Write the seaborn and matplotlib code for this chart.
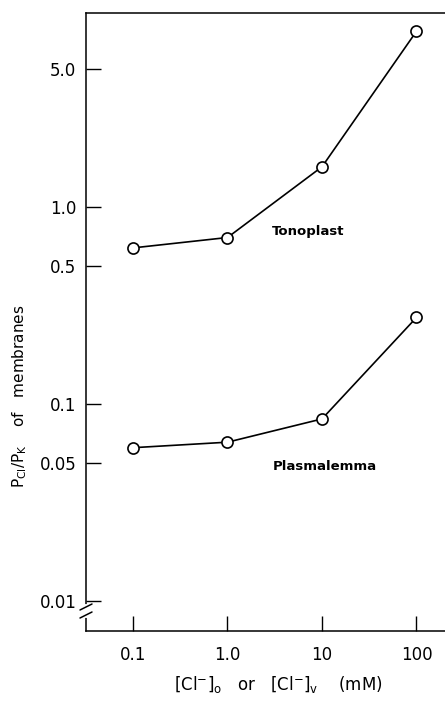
import matplotlib
matplotlib.use("Agg")
import matplotlib.pyplot as plt
import seaborn as sns
import pandas as pd
import numpy as np

cl_conc = [0.1, 1.0, 10, 100]
tonoplast = [0.62, 0.70, 1.6, 7.8]
plasmalemma = [0.060, 0.064, 0.084, 0.275]
xtick_vals = [0.1, 1.0, 10, 100]
xtick_labels = ["0.1", "1.0", "10", "100"]
ytick_vals = [0.01, 0.05, 0.1, 0.5, 1.0, 5.0]
ytick_labels = ["0.01", "0.05", "0.1", "0.5", "1.0", "5.0"]

sns.set_theme(style="ticks")
plt.rcParams['font.family'] = ['DejaVu Sans']
plt.rcParams['mathtext.default'] = 'regular'
plt.rcParams['text.color'] = 'black'
plt.rcParams['axes.labelcolor'] = 'black'

W, H = 445, 702
fig = plt.figure(figsize=(W / 100, H / 100), dpi=100)
left_px, right_px, top_px, bot_px = 86, 470, 13, 631
ax = fig.add_axes([left_px / W, (H - bot_px) / H, (right_px - left_px) / W, (bot_px - top_px) / H])

df_t = pd.DataFrame({"x": cl_conc, "y": tonoplast})
df_p = pd.DataFrame({"x": cl_conc, "y": plasmalemma})
for d in (df_t, df_p):
    sns.lineplot(data=d, x="x", y="y", ax=ax, color="black", lw=1.2,
                 marker="o", markersize=8, markerfacecolor="white",
                 markeredgecolor="black", markeredgewidth=1.2)

ax.set_xscale("log")
ax.set_yscale("log")
ax.set_xlim(0.1 * 10 ** (-(133 - left_px) / 94.5), 0.1 * 10 ** ((right_px - 133) / 94.5))
ax.set_ylim(0.01 * 10 ** (-(bot_px - 601) / 197), 10 ** ((207 - top_px) / 197))

ax.set_xticks(xtick_vals)
ax.set_xticklabels(xtick_labels)
ax.set_yticks(ytick_vals)
ax.set_yticklabels(ytick_labels)
ax.minorticks_off()
ax.tick_params(axis="both", which="major", direction="in", length=11, width=1, color="black",
               labelsize=12, labelcolor="black", bottom=True, left=True, top=False, right=False)
ax.tick_params(axis="x", pad=11)
ax.tick_params(axis="y", pad=7)

for s in ("left", "bottom", "top"):
    ax.spines[s].set_visible(True)
    ax.spines[s].set_color("black")
    ax.spines[s].set_linewidth(1.1)
ax.spines["right"].set_visible(False)

ax.set_xlabel(r"[Cl$^{-}$]$_{o}$   or   [Cl$^{-}$]$_{v}$    (mM)", fontsize=12, labelpad=7, color="black")
ax.set_ylabel(r"P$_{Cl}$/P$_{K}$    of   membranes", fontsize=11, labelpad=10, color="black")
ax.yaxis.set_label_coords(-(86 - 29) / (right_px - left_px), (bot_px - 396) / (bot_px - top_px))

ax.text(10 ** ((308 - 133) / 94.5 - 1), 10 ** ((207 - 231) / 197), "Tonoplast",
        fontsize=9.5, fontweight="bold", ha="center", va="center", color="black")
ax.text(10 ** ((325 - 133) / 94.5 - 1), 0.1 * 10 ** ((404 - 467) / 197), "Plasmalemma",
        fontsize=9.5, fontweight="bold", ha="center", va="center", color="black")

# axis break on the y-axis
trans = ax.transAxes
def ay(py):
    return (bot_px - py) / (bot_px - top_px)
ax.plot([0, 0], [ay(606), ay(616)], transform=trans, color="white", lw=3, clip_on=False, zorder=5)
for py in (607, 615):
    ax.plot([-6 / (right_px - left_px), 6 / (right_px - left_px)], [ay(py + 3), ay(py - 3)],
            transform=trans, color="black", lw=1.1, clip_on=False, zorder=6)

fig.savefig("out.png", dpi=100)
